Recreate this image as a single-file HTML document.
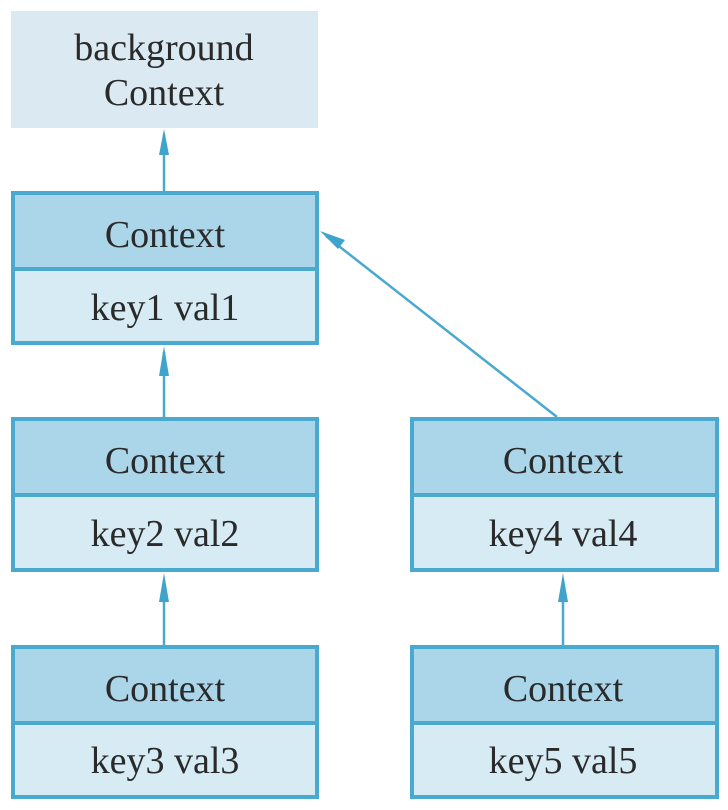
<!DOCTYPE html>
<html><head><meta charset="utf-8"><style>
html,body{margin:0;padding:0;background:#fff;}
svg{display:block;}
text{font-family:"Liberation Serif",serif;font-size:38px;fill:#2a2a2a;text-anchor:middle;}
</style></head><body>
<svg width="728" height="810" viewBox="0 0 728 810" xmlns="http://www.w3.org/2000/svg">
<rect x="0" y="0" width="728" height="810" fill="#fff"/>
<rect x="11" y="11" width="307" height="117" fill="#dbeaf2"/>
<text x="164" y="60">background</text>
<text x="164" y="105">Context</text>

<g stroke="#4aa9cf" stroke-width="4">
  <rect x="13" y="193" width="304" height="76" fill="#abd6ea"/>
  <rect x="13" y="269" width="304" height="74" fill="#d6ebf4"/>
  <rect x="13" y="419" width="304" height="76" fill="#abd6ea"/>
  <rect x="13" y="495" width="304" height="75" fill="#d6ebf4"/>
  <rect x="13" y="647" width="304" height="76" fill="#abd6ea"/>
  <rect x="13" y="723" width="304" height="74" fill="#d6ebf4"/>
  <rect x="412" y="419" width="305" height="76" fill="#abd6ea"/>
  <rect x="412" y="495" width="305" height="75" fill="#d6ebf4"/>
  <rect x="412" y="647" width="305" height="76" fill="#abd6ea"/>
  <rect x="412" y="723" width="305" height="74" fill="#d6ebf4"/>
</g>

<text x="165" y="247">Context</text>
<text x="165" y="320">key1 val1</text>
<text x="165" y="473">Context</text>
<text x="165" y="546">key2 val2</text>
<text x="165" y="701">Context</text>
<text x="165" y="773">key3 val3</text>
<text x="563" y="473">Context</text>
<text x="563" y="546">key4 val4</text>
<text x="563" y="701">Context</text>
<text x="563" y="773">key5 val5</text>

<g stroke="#4aa9cf" stroke-width="2.5" fill="#3ea4cc">
  <line x1="164" y1="191" x2="164" y2="135"/>
  <polygon points="164,129 159,155 169,155" stroke="none"/>
  <line x1="164" y1="417" x2="164" y2="352"/>
  <polygon points="164,346 159,376 169,376" stroke="none"/>
  <line x1="164" y1="645" x2="164" y2="580"/>
  <polygon points="164,573 159,602 169,602" stroke="none"/>
  <line x1="563" y1="645" x2="563" y2="580"/>
  <polygon points="563,573 558,602 568,602" stroke="none"/>
  <line x1="557" y1="417" x2="326" y2="236"/>
  <polygon points="320,231 345,240 338,249" stroke="none"/>
</g>
</svg>
</body></html>
